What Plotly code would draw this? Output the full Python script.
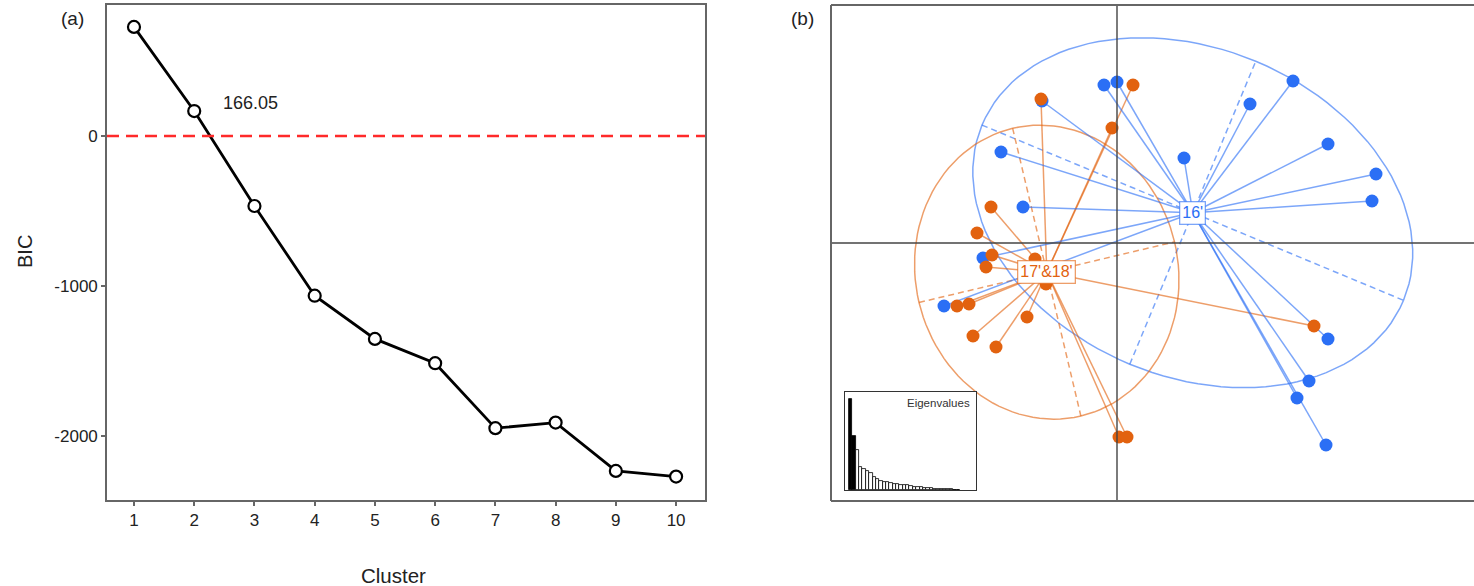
import numpy as np
import plotly.graph_objects as go

W, H = 1474, 586

# ---------------- data ----------------
clusters = list(range(1, 11))
bic = [727, 166.05, -467, -1065, -1353, -1515, -1948, -1911, -2233, -2271]
bic_label = "166.05"

# DAPC scores (LD1, LD2) per group
g16_x = [-0.26, 0.00, 3.52, 2.66, 1.34, 4.22, 5.18, 5.10, -1.50, -2.32, -1.88, -2.68, -3.46, 4.22, 3.84, 3.60, 4.18]
g16_y = [3.16, 3.22, 3.24, 2.78, 1.70, 1.98, 1.38, 0.84, 2.84, 1.82, 0.72, -0.30, -1.26, -1.92, -2.76, -3.10, -4.04]
g1718_x = [-1.52, 0.32, -0.10, -2.52, -2.80, -2.50, -2.62, -1.64, -1.42, -3.20, -2.96, -1.80, -2.88, -2.42, 0.04, 0.20, 3.94]
g1718_y = [2.88, 3.16, 2.30, 0.72, 0.20, -0.24, -0.48, -0.32, -0.82, -1.26, -1.22, -1.48, -1.86, -2.08, -3.88, -3.88, -1.66]
group_names = ["16'", "17'&18'"]

eigenvalues = [27.2, 16.2, 12.0, 6.8, 6.2, 5.8, 5.0, 4.0, 3.2, 2.7, 2.5, 2.3, 2.0, 1.8, 1.7,
               1.6, 1.5, 1.4, 1.2, 1.0, 0.9, 0.8, 0.7, 0.6, 0.5, 0.4, 0.3, 0.3, 0.2, 0.2, 0.2, 0.1, 0.1]
n_retained = 2

# ---------------- styles ----------------
FONT = "Arial, Liberation Sans, sans-serif"
TXT = "#222222"
FRAME = "#666666"
BLUE = "#2b6ff5"
BLUE_L = "rgba(43,111,245,0.62)"
ORANGE = "#e2620f"
ORANGE_L = "rgba(226,98,15,0.62)"


def px_x(p):
    return p / W


def px_y(p):
    return 1 - p / H


def ellipse(xs, ys, coeff=1.5):
    x = np.asarray(xs, float)
    y = np.asarray(ys, float)
    mx, my = x.mean(), y.mean()
    cov = np.cov(np.vstack([x, y]), bias=True)
    vals, vecs = np.linalg.eigh(cov)
    l1, l2 = np.sqrt(max(vals[1], 0)), np.sqrt(max(vals[0], 0))
    v1, v2 = vecs[:, 1], vecs[:, 0]
    t = np.linspace(0, 2 * np.pi, 121)
    ex = mx + coeff * (l1 * v1[0] * np.cos(t) + l2 * v2[0] * np.sin(t))
    ey = my + coeff * (l1 * v1[1] * np.cos(t) + l2 * v2[1] * np.sin(t))
    ax_x = [mx + coeff * l1 * v1[0], mx - coeff * l1 * v1[0], None,
            mx + coeff * l2 * v2[0], mx - coeff * l2 * v2[0]]
    ax_y = [my + coeff * l1 * v1[1], my - coeff * l1 * v1[1], None,
            my + coeff * l2 * v2[1], my - coeff * l2 * v2[1]]
    return mx, my, ex, ey, ax_x, ax_y


def star(xs, ys, mx, my):
    sx, sy = [], []
    for a, b in zip(xs, ys):
        sx += [mx, a, None]
        sy += [my, b, None]
    return sx, sy


fig = go.Figure()

# ---------------- panel (a) ----------------
fig.add_trace(go.Scatter(
    x=clusters, y=bic, mode="lines+markers", xaxis="x", yaxis="y",
    line=dict(color="black", width=2.8),
    marker=dict(symbol="circle", size=12, color="white", line=dict(color="black", width=2.2)),
    showlegend=False, hoverinfo="x+y"))

# ---------------- panel (b) ----------------
groups = [(g16_x, g16_y, BLUE, BLUE_L, group_names[0]),
          (g1718_x, g1718_y, ORANGE, ORANGE_L, group_names[1])]
cents = []
for xs, ys, col, coll, name in groups:
    mx, my, ex, ey, axx, axy = ellipse(xs, ys)
    cents.append((mx, my, col, coll, name))
    fig.add_trace(go.Scatter(x=ex, y=ey, mode="lines", xaxis="x2", yaxis="y2",
                             line=dict(color=coll, width=1.5), showlegend=False, hoverinfo="skip"))
    fig.add_trace(go.Scatter(x=axx, y=axy, mode="lines", xaxis="x2", yaxis="y2",
                             line=dict(color=coll, width=1.5, dash="6px,4px"), showlegend=False,
                             hoverinfo="skip"))

for xs, ys, col, coll, name in groups[::-1]:
    mx, my = np.mean(xs), np.mean(ys)
    sx, sy = star(xs, ys, mx, my)
    fig.add_trace(go.Scatter(x=sx, y=sy, mode="lines", xaxis="x2", yaxis="y2",
                             line=dict(color=coll, width=1.5), showlegend=False, hoverinfo="skip"))

for xs, ys, col, coll, name in groups:
    fig.add_trace(go.Scatter(x=xs, y=ys, mode="markers", xaxis="x2", yaxis="y2",
                             marker=dict(size=13, color=col, line=dict(width=0)),
                             name=name, showlegend=False))

# ---------------- eigenvalue inset ----------------
eig_x = list(range(1, len(eigenvalues) + 1))
eig_col = ["black" if i < n_retained else "white" for i in range(len(eigenvalues))]
fig.add_trace(go.Bar(x=eig_x, y=eigenvalues, xaxis="x3", yaxis="y3", width=1,
                     marker=dict(color=eig_col, line=dict(color="black", width=0.8)),
                     showlegend=False, hoverinfo="y"))


def ptext(text, x, y, size, angle=0):
    return dict(text=text, x=px_x(x), y=px_y(y), xref="paper", yref="paper", showarrow=False,
                xanchor="center", yanchor="middle", textangle=angle,
                font=dict(size=size, color=TXT, family=FONT))


annotations = [
    ptext("(a)", 72, 18, 19),
    ptext("(b)", 802, 18, 19),
    ptext("Cluster", 393, 575, 20.5),
    ptext("BIC", 25, 252, 20, -90),
    dict(text=bic_label, x=clusters[1], y=bic[1], xref="x", yref="y", showarrow=False,
         xanchor="center", yanchor="middle",
         xshift=56, yshift=8, font=dict(size=18, color=TXT, family=FONT)),
    dict(text="Eigenvalues", x=0.97, y=0.97, xref="x3 domain", yref="y3 domain",
         xanchor="right", yanchor="top", showarrow=False,
         font=dict(size=11.5, color="#333333", family=FONT)),
]
for mx, my, col, coll, name in cents:
    annotations.append(dict(text=name, x=mx, y=my, xref="x2", yref="y2", showarrow=False,
                            xanchor="center", yanchor="middle",
                            bgcolor="white", bordercolor=coll, borderwidth=1.3, borderpad=2,
                            font=dict(size=16, color=col, family=FONT)))

shapes = [
    # zero reference line, panel (a)
    dict(type="line", xref="x domain", yref="y", x0=0, x1=1, y0=0, y1=0,
         line=dict(color="#ff2a2a", width=2.6, dash="12px,7px")),
    # axes through origin, panel (b)
    dict(type="line", xref="x2", yref="y2 domain", x0=0, x1=0, y0=0, y1=1,
         line=dict(color="#444444", width=1.4)),
    dict(type="line", xref="x2 domain", yref="y2", x0=0, x1=1, y0=0, y1=0,
         line=dict(color="#444444", width=1.6)),
    # frame of panel (b) (right side cut off)
    dict(type="line", xref="paper", yref="paper", x0=px_x(831), x1=px_x(831), y0=px_y(501), y1=px_y(5),
         line=dict(color=FRAME, width=2)),
    dict(type="line", xref="paper", yref="paper", x0=px_x(831), x1=1, y0=px_y(5), y1=px_y(5),
         line=dict(color=FRAME, width=2)),
    dict(type="line", xref="paper", yref="paper", x0=px_x(831), x1=1, y0=px_y(501), y1=px_y(501),
         line=dict(color=FRAME, width=2)),
]

fig.update_layout(
    width=W, height=H, margin=dict(l=0, r=0, t=0, b=0),
    paper_bgcolor="white", plot_bgcolor="white",
    font=dict(family=FONT, color=TXT),
    showlegend=False,
    xaxis=dict(domain=[px_x(107), px_x(705)], range=[0.552, 10.48], tickvals=clusters,
               ticktext=[str(c) for c in clusters], ticks="outside", ticklen=4, tickwidth=1.5,
               tickcolor=FRAME, showline=True, mirror=True, linecolor=FRAME, linewidth=1.6,
               showgrid=False, zeroline=False, tickfont=dict(size=17, color=TXT, family=FONT)),
    yaxis=dict(domain=[px_y(500), px_y(5)], range=[-2427, 873], tickvals=[0, -1000, -2000],
               ticktext=["0", "-1000", "-2000"], ticks="outside", ticklen=4, tickwidth=1.5,
               tickcolor=FRAME, showline=True, mirror=True, linecolor=FRAME, linewidth=1.6,
               showgrid=False, zeroline=False, tickfont=dict(size=17, color=TXT, family=FONT)),
    xaxis2=dict(domain=[px_x(831), 1], range=[-5.72, 7.14], visible=False, anchor="y2"),
    yaxis2=dict(domain=[px_y(501), px_y(5)], range=[-5.16, 4.76], visible=False, anchor="x2"),
    xaxis3=dict(domain=[px_x(845), px_x(976)], range=[-0.69, 38.3], anchor="y3", showline=True,
                mirror=True, linecolor="#333333", linewidth=1.3, showticklabels=False, ticks="",
                showgrid=False, zeroline=False),
    yaxis3=dict(domain=[px_y(490), px_y(392)], range=[0, 27.2 * 98 / 91], anchor="x3",
                showline=True, mirror=True, linecolor="#333333", linewidth=1.3,
                showticklabels=False, ticks="", showgrid=False, zeroline=False),
    bargap=0,
    annotations=annotations,
    shapes=shapes,
)

fig.write_html("out.html")
